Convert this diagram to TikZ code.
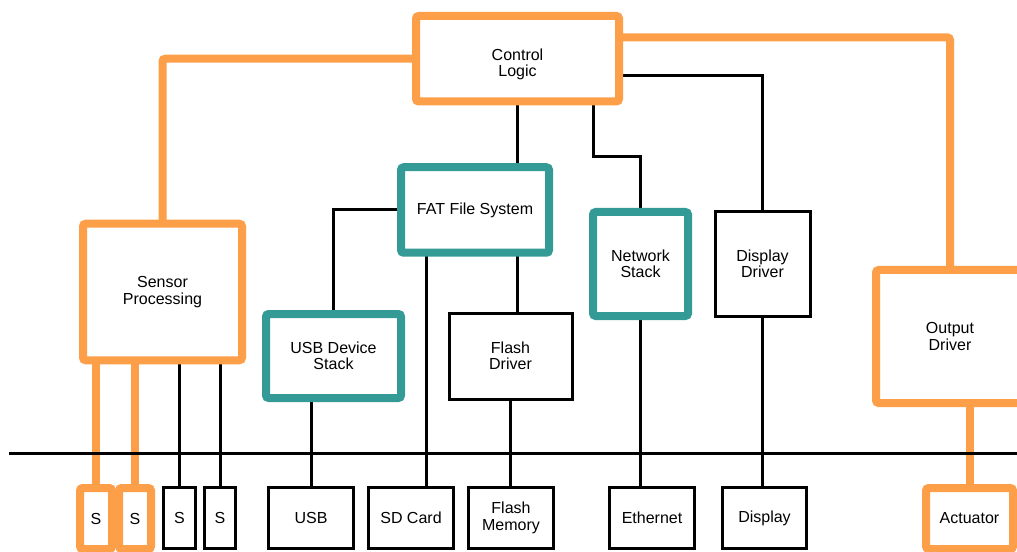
\documentclass[tikz,border=0pt]{standalone}
\usepackage{fontspec}
\setmainfont{Liberation Sans}
\usetikzlibrary{calc}
\definecolor{accentorange}{RGB}{253,158,72}
\definecolor{accentteal}{RGB}{52,154,150}
\pgfdeclarelayer{bg}
\pgfsetlayers{bg,main}

\begin{document}
\begin{tikzpicture}[x=0.75pt,y=-0.75pt,
  wh/.style 2 args={minimum width=#1*0.75pt, minimum height=#2*0.75pt},
  box/.style={draw, rectangle, fill=white, inner sep=0pt, outer sep=0pt,
    align=center, font=\fontsize{12}{12.3}\selectfont},
  obox/.style={box, draw=accentorange, line width=6pt, rounded corners=2pt},
  tbox/.style={box, draw=accentteal, line width=6pt, rounded corners=2pt},
  kbox/.style={box, draw=black, line width=2.25pt},
  oline/.style={draw=accentorange, line width=6pt, rounded corners=2pt},
  kline/.style={draw=black, line width=2.25pt},
]
\clip (0,0) rectangle (1017,552);

% upper blocks
\node[obox, wh={203}{85.5}] (cl) at (517.5,58.75) {\rule{0pt}{17.5pt}Control\\Logic};
\node[obox, wh={159}{136.5}] (sp) at (162.5,292) {Sensor\\Processing};
\node[tbox, wh={148}{85.5}] (fat) at (475,210) {FAT File System};
\node[tbox, wh={135}{84}] (usbds) at (333.5,356) {USB Device\\Stack};
\node[kbox, wh={123}{86}] (fd) at (510.5,356) {Flash\\Driver};
\node[tbox, wh={95}{104}] (ns) at (640.5,264) {Network\\Stack};
\node[kbox, wh={95}{104}] (dd) at (762.5,264) {Display\\Driver};
\node[obox, wh={148}{133}] (od) at (950,336.5) {Output\\Driver};

% devices below the bus
\node[obox, wh={32}{61}] (s1) at (96,518.5) {S};
\node[obox, wh={32}{61}] (s2) at (135,518.5) {S};
\node[kbox, wh={32}{61}] (s3) at (179.5,518) {S};
\node[kbox, wh={31}{61}] (s4) at (220,518) {S};
\node[kbox, wh={85}{61}] (usb) at (311,518) {USB};
\node[kbox, wh={85}{61}] (sd) at (411,518) {SD Card};
\node[kbox, wh={85}{61}] (fm) at (511,518) {Flash\\Memory};
\node[kbox, wh={85}{61}] (eth) at (652,518) {Ethernet};
\node[kbox, wh={84}{61}] (disp) at (764.5,518) {Display};
\node[obox, wh={87}{61}] (act) at (969.5,518.5) {Actuator};

\coordinate (nsbend) at (593,157);
\coordinate (sdcol) at (426,0);
\coordinate (busL) at (9,453);
\coordinate (busR) at (1017,453);

\begin{pgfonlayer}{bg}
  \fill[white] (0,0) rectangle (1017,552);
  % control paths
  \draw[oline] (cl.west) -| (sp.north);
  \draw[oline] ($(cl.north east)!0.25!(cl.south east)$) -| (od.north);
  \draw[oline] (s1.north |- sp.south) -- (s1.north);
  \draw[oline] (s2.north |- sp.south) -- (s2.north);
  \draw[oline] (act.north |- od.south) -- (act.north);
  % software stack links
  \draw[kline] ($(cl.north east)!0.7!(cl.south east)$) -| (dd.north);
  \draw[kline] (cl.south -| nsbend) -- (nsbend) -| (ns.north);
  \draw[kline] (cl.south) -- (cl.south |- fat.north);
  \draw[kline] (fat.west) -| (usbds.north);
  \draw[kline] (fat.south -| sdcol) -- (sd.north -| sdcol);
  \draw[kline] (fat.south -| cl.south) -- (fd.north -| cl.south);
  \draw[kline] (fd.south) -- (fd.south |- fm.north);
  \draw[kline] (usb.north |- usbds.south) -- (usb.north);
  \draw[kline] (ns.south) -- (ns.south |- eth.north);
  \draw[kline] (dd.south) -- (dd.south |- disp.north);
  \draw[kline] (s3.north |- sp.south) -- (s3.north);
  \draw[kline] (s4.north |- sp.south) -- (s4.north);
  % hardware bus
  \draw[kline] (busL) -- (busR);
\end{pgfonlayer}
\end{tikzpicture}
\end{document}
